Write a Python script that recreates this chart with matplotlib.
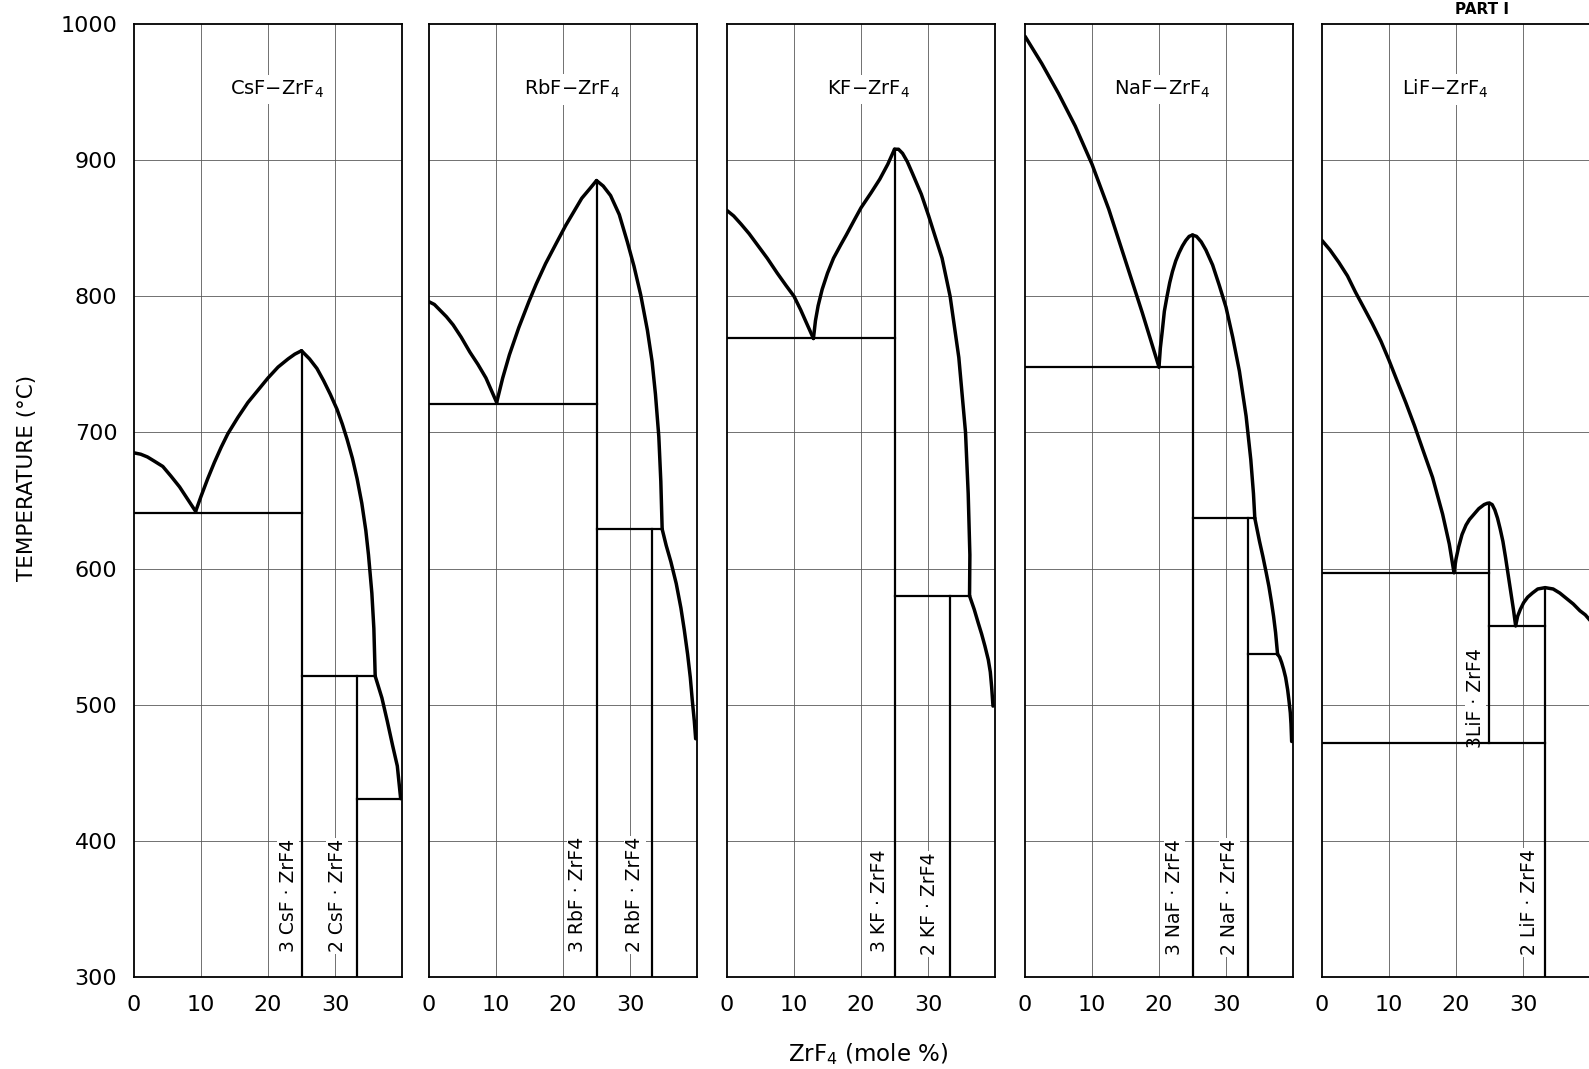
import matplotlib
matplotlib.use("Agg")
import matplotlib.pyplot as plt

# ---- DATA ----
# CsF-ZrF4
csf_a_x = [0, 1, 2, 3, 4.3, 5.5, 6.8, 8, 9.2]
csf_a_t = [685, 684, 682, 679, 675, 668, 660, 651, 642]
csf_b_x = [9.2, 10, 11, 12, 13, 14, 15.5, 17, 18.5, 20, 21.5, 23, 24, 25]
csf_b_t = [642, 653, 666, 678, 689, 699, 711, 722, 731, 740, 748, 754, 757.5, 760]
csf_c_x = [25, 26.2, 27.3, 28.3, 29.3, 30.3, 31.1, 31.8, 32.6, 33.3, 34.0, 34.6, 35.0, 35.5, 35.8, 36.0]
csf_c_t = [760, 754, 747, 738, 728, 717, 706, 695, 681, 666, 648, 628, 610, 582, 556, 521]
csf_d_x = [36.0, 37.0, 37.8, 38.6, 39.3, 39.8]
csf_d_t = [521, 505, 488, 470, 455, 431]
csf_iso_t = [641, 521, 431]
csf_iso_x0 = [0, 25, 33.3]
csf_iso_x1 = [25, 36.0, 40]
csf_cmp_x = [25, 33.3]
csf_cmp_top = [760, 521]
csf_cmp_bot = [300, 300]

# RbF-ZrF4
rbf_a_x = [0, 0.8, 1.6, 2.6, 3.6, 4.8, 6.1, 7.3, 8.5, 9.3, 10.1]
rbf_a_t = [796, 794, 790, 785, 779, 770, 759, 750, 740, 731, 722]
rbf_b_x = [10.1, 11, 12, 13.4, 14.9, 16, 17.4, 19, 20.4, 21.6, 22.8, 24, 25]
rbf_b_t = [722, 740, 757, 777, 796, 809, 824, 839, 852, 862, 872, 879, 885]
rbf_c_x = [25, 26, 27.1, 28.4, 29.6, 30.6, 31.6, 32.6, 33.3, 33.8, 34.3, 34.6, 34.8]
rbf_c_t = [885, 881, 874, 860, 840, 822, 801, 775, 752, 728, 697, 664, 629]
rbf_d_x = [34.8, 35.4, 36.1, 36.9, 37.6, 38.1, 38.6, 39.0, 39.3, 39.6, 39.8]
rbf_d_t = [629, 617, 605, 589, 571, 555, 537, 520, 503, 488, 475]
rbf_iso_t = [721, 629]
rbf_iso_x0 = [0, 25]
rbf_iso_x1 = [25, 34.8]
rbf_cmp_x = [25, 33.3]
rbf_cmp_top = [885, 629]
rbf_cmp_bot = [300, 300]

# KF-ZrF4
kf_a_x = [0, 1, 2.1, 3.3, 4.5, 6, 7.5, 8.8, 10, 11, 11.9, 12.9]
kf_a_t = [863, 859, 853, 846, 838, 828, 817, 808, 800, 790, 780, 769]
kf_b_x = [12.9, 13.2, 13.6, 14.2, 15, 15.9, 17, 17.8, 19, 20, 21.5, 22.8, 24, 25]
kf_b_t = [769, 782, 793, 805, 817, 828, 838, 845, 856, 865, 876, 886, 897, 908]
kf_c_x = [25, 25.6, 26.2, 26.9, 27.7, 29, 30.1, 31, 32.1, 33.3, 34.6, 35.6, 36.0, 36.25, 36.2]
kf_c_t = [908, 908, 905, 899, 890, 875, 859, 845, 828, 800, 755, 700, 655, 610, 580]
kf_d_x = [36.2, 36.9, 37.5, 38.0, 38.5, 39.0, 39.3, 39.5, 39.7]
kf_d_t = [580, 570, 560, 552, 543, 533, 524, 513, 499]
kf_iso_t = [769, 580]
kf_iso_x0 = [0, 25]
kf_iso_x1 = [25, 36.2]
kf_cmp_x = [25, 33.3]
kf_cmp_top = [908, 580]
kf_cmp_bot = [300, 300]

# NaF-ZrF4
naf_a_x = [0, 2.5, 5, 7.5, 10, 12.5, 15, 17.5, 20]
naf_a_t = [991, 971, 949, 925, 897, 864, 826, 788, 748]
naf_b_x = [20, 20.2, 20.5, 20.8, 21.2, 21.6, 22, 22.5, 23, 23.5, 24, 24.5, 25]
naf_b_t = [748, 762, 775, 789, 800, 810, 818, 826, 832, 837, 841, 844, 845]
naf_c_x = [25, 25.6, 26.3, 27, 28, 29, 30, 31, 32, 33, 33.7, 34.1, 34.3]
naf_c_t = [845, 844, 840, 834, 823, 808, 792, 770, 745, 712, 680, 655, 637]
naf_d_x = [34.3, 35, 35.5, 36, 36.4, 36.8, 37.1, 37.4, 37.7]
naf_d_t = [637, 620, 609, 597, 587, 575, 565, 553, 537]
naf_e_x = [37.7, 38.0, 38.3, 38.6, 38.9, 39.2, 39.4, 39.6, 39.7, 39.8]
naf_e_t = [537, 535, 531, 526, 520, 511, 503, 494, 486, 473]
naf_iso_t = [748, 637, 537]
naf_iso_x0 = [0, 25, 33.3]
naf_iso_x1 = [25, 34.3, 37.7]
naf_cmp_x = [25, 33.3]
naf_cmp_top = [845, 637]
naf_cmp_bot = [300, 300]

# LiF-ZrF4
lif_a_x = [0, 1.2, 2.5, 3.8, 5, 6.2, 7.5, 8.8, 10, 11.2, 12.5, 13.8, 15, 16.5, 18, 19, 19.7]
lif_a_t = [841, 834, 825, 815, 803, 792, 780, 767, 753, 738, 722, 705, 688, 667, 640, 618, 597]
lif_b_x = [19.7, 20, 20.4, 20.9, 21.5, 22, 22.7, 23.4, 24.2, 24.7, 25]
lif_b_t = [597, 607, 616, 625, 632, 636, 640, 644, 647, 648, 648]
lif_c_x = [25, 25.4, 25.8, 26.2, 26.6, 27, 27.4, 27.8, 28.2, 28.6, 28.9]
lif_c_t = [648, 647, 643, 637, 629, 620, 608, 595, 582, 569, 558]
lif_d_x = [28.9, 29.2, 29.6, 30.1, 30.7, 31.4, 32.2, 33.3, 34.5, 35.5, 36.5, 37.5, 38.5, 39.3, 40]
lif_d_t = [558, 565, 570, 575, 579, 582, 585, 586, 585, 582, 578, 574, 569, 566, 562]
lif_iso_t = [597, 558, 472]
lif_iso_x0 = [0, 25, 0]
lif_iso_x1 = [25, 33.3, 33.3]
lif_cmp_x = [25, 33.3]
lif_cmp_top = [648, 586]
lif_cmp_bot = [472, 300]

titles = [r"CsF$-$ZrF$_4$", r"RbF$-$ZrF$_4$", r"KF$-$ZrF$_4$",
          r"NaF$-$ZrF$_4$", r"LiF$-$ZrF$_4$"]
cmp_labels = [["3 CsF · ZrF4", "2 CsF · ZrF4"],
              ["3 RbF · ZrF4", "2 RbF · ZrF4"],
              ["3 KF · ZrF4", "2 KF · ZrF4"],
              ["3 NaF · ZrF4", "2 NaF · ZrF4"],
              ["3LiF · ZrF4", "2 LiF · ZrF4"]]
y_ticks = [300, 400, 500, 600, 700, 800, 900, 1000]
x_ticks = [0, 10, 20, 30]

systems = [
    dict(branches=[(csf_a_x, csf_a_t), (csf_b_x, csf_b_t), (csf_c_x, csf_c_t), (csf_d_x, csf_d_t)],
         iso=(csf_iso_t, csf_iso_x0, csf_iso_x1), cmp=(csf_cmp_x, csf_cmp_top, csf_cmp_bot)),
    dict(branches=[(rbf_a_x, rbf_a_t), (rbf_b_x, rbf_b_t), (rbf_c_x, rbf_c_t), (rbf_d_x, rbf_d_t)],
         iso=(rbf_iso_t, rbf_iso_x0, rbf_iso_x1), cmp=(rbf_cmp_x, rbf_cmp_top, rbf_cmp_bot)),
    dict(branches=[(kf_a_x, kf_a_t), (kf_b_x, kf_b_t), (kf_c_x, kf_c_t), (kf_d_x, kf_d_t)],
         iso=(kf_iso_t, kf_iso_x0, kf_iso_x1), cmp=(kf_cmp_x, kf_cmp_top, kf_cmp_bot)),
    dict(branches=[(naf_a_x, naf_a_t), (naf_b_x, naf_b_t), (naf_c_x, naf_c_t), (naf_d_x, naf_d_t),
                   (naf_e_x, naf_e_t)],
         iso=(naf_iso_t, naf_iso_x0, naf_iso_x1), cmp=(naf_cmp_x, naf_cmp_top, naf_cmp_bot)),
    dict(branches=[(lif_a_x, lif_a_t), (lif_b_x, lif_b_t), (lif_c_x, lif_c_t), (lif_d_x, lif_d_t)],
         iso=(lif_iso_t, lif_iso_x0, lif_iso_x1), cmp=(lif_cmp_x, lif_cmp_top, lif_cmp_bot)),
]

# ---- LAYOUT (pixels in the 1589x1069 figure) ----
W, H = 1589, 1069
lefts = [134, 429, 727, 1025, 1322]
pw, top, bottom = 268, 24, 977
title_x = [21.3, 21.4, 21.1, 20.5, 18.4]
lab_x = [[23.0, 30.3], [22.2, 30.7], [22.7, 30.2], [22.3, 30.5], [22.9, 31.0]]
lab_y = [[318, 318], [318, 318], [318, 316], [316, 316], [468, 316]]

plt.rcParams['font.family'] = 'DejaVu Sans'
fig = plt.figure(figsize=(W / 100, H / 100), dpi=100)

for i, sysd in enumerate(systems):
    ax = fig.add_axes([lefts[i] / W, 1 - bottom / H, pw / W, (bottom - top) / H])
    ax.set_xlim(0, 40)
    ax.set_ylim(300, 1000)

    # grid
    for gx in [10, 20, 30]:
        ax.axvline(gx, color='0.35', lw=0.6, zorder=1)
    for gy in [400, 500, 600, 700, 800, 900]:
        ax.axhline(gy, color='0.35', lw=0.6, zorder=1)

    # liquidus branches
    for bx, bt in sysd['branches']:
        ax.plot(bx, bt, color='black', lw=2.5, solid_joinstyle='round',
                solid_capstyle='round', zorder=4)
    # invariant lines
    it, ix0, ix1 = sysd['iso']
    for t, a, b in zip(it, ix0, ix1):
        ax.plot([a, b], [t, t], color='black', lw=1.6, zorder=3)
    # compound lines
    cx, ctop, cbot = sysd['cmp']
    for x, a, b in zip(cx, ctop, cbot):
        ax.plot([x, x], [b, a], color='black', lw=1.6, zorder=3)

    ax.text(title_x[i], 952, titles[i], ha='center', va='center', fontsize=14,
            bbox=dict(fc='white', ec='none', pad=3), zorder=2)
    for j, lab in enumerate(cmp_labels[i]):
        ax.text(lab_x[i][j], lab_y[i][j], lab, rotation=90, ha='center', va='bottom',
                fontsize=13.5, bbox=dict(fc='white', ec='none', pad=1), zorder=2)

    ax.set_xticks(x_ticks)
    ax.set_xticklabels([str(v) for v in x_ticks], fontsize=16)
    ax.set_yticks(y_ticks)
    if i == 0:
        ax.set_yticklabels([str(v) for v in y_ticks], fontsize=16)
    else:
        ax.set_yticklabels([])
    ax.tick_params(axis='x', length=0, pad=13)
    ax.tick_params(axis='y', length=0, pad=12)
    for s in ax.spines.values():
        s.set_linewidth(1.3)

fig.text(27 / W, 1 - 478 / H, "TEMPERATURE (°C)", rotation=90, ha='center', va='center',
         fontsize=15.5)
fig.text(868 / W, 1 - 1054 / H, r"ZrF$_4$ (mole %)", ha='center', va='center', fontsize=16.5)
fig.text(1482 / W, 1 - 10 / H, "PART I", ha='center', va='center', fontsize=11,
         fontweight='bold')

fig.savefig("out.png", dpi=100, facecolor='white')
